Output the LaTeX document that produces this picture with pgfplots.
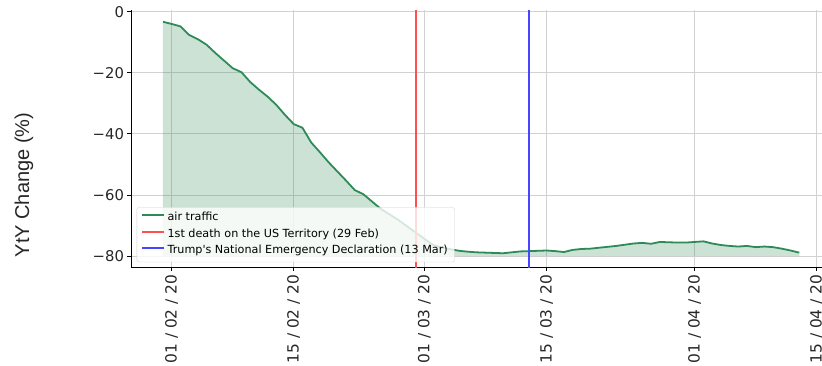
\documentclass[border=0pt]{standalone}
\usepackage{fontspec}
\setmainfont{DejaVu Sans}
\newfontfamily\arialfont{Liberation Sans}
\usepackage{pgfplots}
\usepackage{pgfplotstable}
\pgfplotsset{compat=1.18}
\definecolor{sgreen}{RGB}{46,139,87}
\definecolor{vred}{RGB}{255,80,80}
\definecolor{vblue}{RGB}{70,70,255}
\pgfplotstableread{
day val
-1 -3.3
0 -4.0
1 -4.8
2 -7.6
3 -9.0
4 -10.8
5 -13.5
6 -16.0
7 -18.5
8 -19.8
9 -23.0
10 -25.5
11 -27.8
12 -30.5
13 -33.8
14 -36.8
15 -38.0
16 -42.8
17 -46.0
18 -49.3
19 -52.3
20 -55.3
21 -58.4
22 -59.8
23 -62.2
24 -64.6
25 -66.4
26 -68.2
27 -70.3
28 -72.3
29 -74.4
30 -76.4
31 -77.2
32 -77.8
33 -78.3
34 -78.6
35 -78.8
36 -78.9
37 -79.0
38 -79.1
39 -78.8
40 -78.5
41 -78.4
42 -78.3
43 -78.2
44 -78.4
45 -78.7
46 -78.0
47 -77.7
48 -77.6
49 -77.3
50 -77.0
51 -76.7
52 -76.3
53 -75.9
54 -75.7
55 -76.0
56 -75.4
57 -75.5
58 -75.6
59 -75.6
60 -75.4
61 -75.2
62 -75.9
63 -76.4
64 -76.7
65 -76.9
66 -76.7
67 -77.1
68 -76.9
69 -77.1
70 -77.6
71 -78.2
72 -78.9
}\airdata
\begin{document}
\begin{tikzpicture}
\begin{axis}[
  at={(0,0)}, anchor=south west,
  scale only axis, width=700.1pt, height=257.5pt,
  xmin=-4.67, xmax=75.65, ymin=-83.8, ymax=0.53,
  axis lines*=left, axis line style={-, line width=0.8pt, black},
  xtick={0,14,29,43,60,74},
  xticklabels={01 / 02 / 20, 15 / 02 / 20, 01 / 03 / 20, 15 / 03 / 20, 01 / 04 / 20, 15 / 04 / 20},
  ytick={-80,-60,-40,-20,0},
  yticklabels={−80,−60,−40,−20,0},
  tick align=outside, major tick length=3.5pt, tick style={black, line width=0.8pt},
  grid=major, grid style={gray!35, line width=0.8pt},
  yticklabel style={font=\fontsize{14.8}{17}\selectfont, text=black!85},
  xticklabel style={rotate=90, anchor=east, font=\fontsize{15.4}{18}\selectfont, text=black!85},
  ylabel={\arialfont YtY Change (\%)},
  ylabel style={at={(axis description cs:-0.1528,0.3208)}, anchor=center, font=\fontsize{20}{24}\selectfont, text=black!85},
  legend style={at={(axis description cs:0.00814,0.2342)}, anchor=north west,
    font=\fontsize{11.2}{13}\selectfont, fill=white, fill opacity=0.8, text opacity=1,
    draw=gray!35, rounded corners=2pt, inner xsep=4pt, inner ysep=5.5pt, row sep=6pt,
    nodes={inner ysep=0pt, inner xsep=2.7pt, text height=8pt, text depth=2.5pt},
    /tikz/every even column/.append style={column sep=5.7pt}},
  legend cell align=left,
  legend image code/.code={\draw[#1, line width=2pt, draw opacity=1] (0pt,3pt) -- (22pt,3pt);},
]
\addplot[draw=none, fill=sgreen, fill opacity=0.25, forget plot] table[x=day, y=val] {\airdata}
  -- (axis cs:72,-80) -- (axis cs:-1,-80) -- cycle;
\addplot[color=sgreen, line width=1.8pt] table[x=day, y=val] {\airdata};
\addplot[color=vred, line width=1.5pt] coordinates {(28,-83.8) (28,0.53)};
\addplot[color=vblue, line width=1.5pt] coordinates {(41,-83.8) (41,0.53)};
\legend{air traffic, 1st death on the US Territory (29 Feb), Trump\textquotesingle s National Emergency Declaration (13 Mar)}
\end{axis}
\pgfresetboundingbox
\path (-131pt,-97.4pt) rectangle (691pt,267.6pt);
\end{tikzpicture}
\end{document}
